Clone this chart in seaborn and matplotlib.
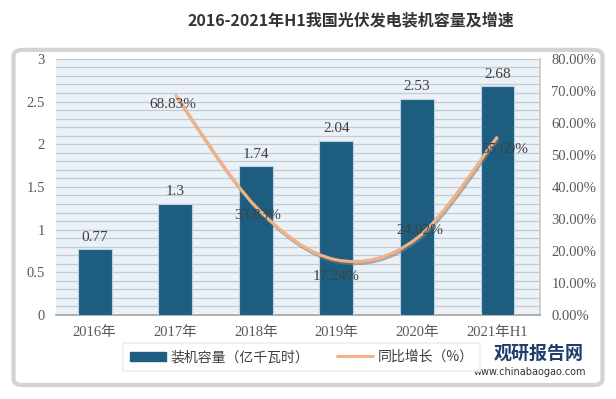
import matplotlib
matplotlib.use("Agg")
import matplotlib.pyplot as plt
import matplotlib.patheffects as pe
from matplotlib.path import Path
from matplotlib.patches import PathPatch, FancyBboxPatch, Patch
from matplotlib.lines import Line2D
from matplotlib.ticker import FuncFormatter, MultipleLocator
import pandas as pd
import seaborn as sns

# --------------------------
# Data
# --------------------------
years = ["2016年", "2017年", "2018年", "2019年", "2020年", "2021年H1"]
capacity = [0.77, 1.3, 1.74, 2.04, 2.53, 2.68]
growth_years = ["2017年", "2018年", "2019年", "2020年", "2021年H1"]
growth = [0.6883, 0.3383, 0.1724, 0.2402, 0.5569]
growth_labels = ["68.83%", "33.83%", "17.24%", "24.02%", "55.69%"]
# label offsets in pixels
growth_offsets = [(-2, -10), (2, -9), (0, -17), (3, 8), (7, -13)]

df = pd.DataFrame({"year": years, "capacity": capacity})

BAR = "#1d5e80"
LINE = "#f4b183"
SERIF = ["Liberation Serif", "Noto Sans CJK SC"]
CJK = ["Noto Sans CJK SC", "DejaVu Sans"]

sns.set_theme(style="white")
plt.rcParams["font.family"] = SERIF

fig = plt.figure(figsize=(6.16, 3.99), dpi=100)

# rounded panel behind the chart
panel = FancyBboxPatch((0.022, 0.035), 0.956, 0.84,
                       boxstyle="round,pad=0,rounding_size=0.015",
                       transform=fig.transFigure, facecolor="white",
                       edgecolor="#d3d3d3", linewidth=3, zorder=-10)
fig.patches.append(panel)

ax = fig.add_axes([0.091, 0.2105, 0.786, 0.642])
ax.set_facecolor("#eaf1f7")

# --------------------------
# Bars
# --------------------------
sns.barplot(data=df, x="year", y="capacity", color=BAR, width=0.42,
            edgecolor="#b9d3e3", linewidth=0.8, saturation=1, ax=ax, zorder=3)
ax.bar_label(ax.containers[0], labels=[f"{v:g}" for v in capacity],
             padding=4, fontsize=11, color="#404040", family=SERIF)

ax.set_xlim(-0.48, 5.53)
ax.set_ylim(0, 3)
ax.yaxis.set_major_locator(MultipleLocator(0.5))
ax.yaxis.set_minor_locator(MultipleLocator(0.1))
ax.yaxis.set_major_formatter(FuncFormatter(lambda v, p: f"{v:g}"))
ax.grid(axis="y", which="both", color="#c3cad2", linewidth=0.9, zorder=0)
ax.set_axisbelow(True)
ax.set_xlabel("")
ax.set_ylabel("")
ax.tick_params(axis="both", which="both", length=0, labelsize=10.5,
               colors="#595959", pad=8)
for s in ["top", "left"]:
    ax.spines[s].set_visible(False)
ax.spines["bottom"].set_color("#a6a6a6")
ax.spines["right"].set_color("#c8c8c8")

# --------------------------
# Growth line (smoothed)
# --------------------------
ax2 = ax.twinx()
ax2.set_ylim(0, 0.8)
ax2.yaxis.set_major_locator(MultipleLocator(0.1))
ax2.yaxis.set_major_formatter(FuncFormatter(lambda v, p: f"{v * 100:.2f}%"))
ax2.tick_params(axis="y", length=0, labelsize=10.5, colors="#595959", pad=8)
for s in ax2.spines.values():
    s.set_visible(False)

xs = [years.index(y) for y in growth_years]
pts = list(zip(xs, growth))
verts = [pts[0]]
codes = [Path.MOVETO]
for i in range(len(pts) - 1):
    p0 = pts[i - 1] if i > 0 else pts[i]
    p1 = pts[i]
    p2 = pts[i + 1]
    p3 = pts[i + 2] if i + 2 < len(pts) else pts[i + 1]
    c1 = (p1[0] + (p2[0] - p0[0]) / 6, p1[1] + (p2[1] - p0[1]) / 6)
    c2 = (p2[0] - (p3[0] - p1[0]) / 6, p2[1] - (p3[1] - p1[1]) / 6)
    verts += [c1, c2, p2]
    codes += [Path.CURVE4] * 3
curve = PathPatch(Path(verts, codes), facecolor="none", edgecolor=LINE,
                  linewidth=2.2, zorder=4,
                  path_effects=[pe.SimpleLineShadow(offset=(0.8, -1.5),
                                                    shadow_color="#7f7f7f",
                                                    alpha=0.6),
                                pe.Normal()])
ax2.add_patch(curve)

for x, v, lab, off in zip(xs, growth, growth_labels, growth_offsets):
    ax2.annotate(lab, (x, v), xytext=off, textcoords="offset pixels",
                 ha="center", va="center", fontsize=11, color="#404040",
                 family=SERIF, zorder=5)

# --------------------------
# Title, legend, source mark
# --------------------------
fig.text(0.57, 0.95, "2016-2021年H1我国光伏发电装机容量及增速", ha="center",
         va="center", fontsize=11.5, fontweight="bold", color="#333333",
         family=CJK)

handles = [Patch(facecolor=BAR, edgecolor=BAR),
           Line2D([0], [0], color=LINE, linewidth=2.2)]
leg = fig.legend(handles, ["装机容量（亿千瓦时）", "同比增长（%）"], ncol=2,
                 loc="center", bbox_to_anchor=(0.49, 0.105), frameon=True,
                 fancybox=False, shadow=False, handlelength=2.6,
                 handleheight=0.6, handletextpad=0.3, columnspacing=2.0,
                 borderpad=0.5, prop={"family": CJK, "size": 10})
leg.get_frame().set_edgecolor("#eeeeee")
leg.get_frame().set_linewidth(1.5)
for t in leg.get_texts():
    t.set_color("#404040")

fig.text(0.875, 0.115, "观研报告网", ha="center", va="center", fontsize=13,
         fontweight="bold", color="#1f3d6b", family=CJK)
fig.text(0.86, 0.068, "www.chinabaogao.com", ha="center", va="center",
         fontsize=7, color="#333333", family=["DejaVu Sans"])

fig.savefig("out.png", dpi=100)
